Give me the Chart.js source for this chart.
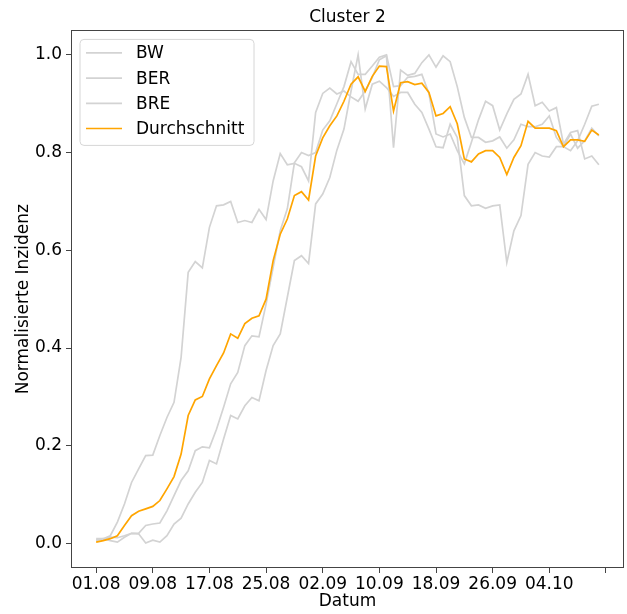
<!DOCTYPE html>
<html><head><meta charset="utf-8">
<script src="https://cdn.jsdelivr.net/npm/chart.js@4.4.1/dist/chart.umd.min.js"></script>
<style>html,body{margin:0;padding:0;background:#fff;overflow:hidden}#wrap{width:627px;height:614px}</style>
</head><body><div id="wrap"><canvas id="c" width="627" height="614"></canvas></div>
<script>
const xTickPositions = [0, 8, 16, 24, 32, 40, 48, 56, 64, 72];
const xTickLabels = ['01.08', '09.08', '17.08', '25.08', '02.09', '10.09', '18.09', '26.09', '04.10', ''];
const yTickValues = [0, 0.2, 0.4, 0.6, 0.8, 1.0];
const seriesNames = ['BW', 'BER', 'BRE', 'Durchschnitt'];

const bw = [0.010,0.010,0.016,0.044,0.081,0.125,0.153,0.180,0.181,0.221,0.258,0.289,0.381,0.555,0.577,0.564,0.647,0.691,0.693,0.700,
0.657,0.661,0.657,0.684,0.663,0.742,0.798,0.775,0.778,0.771,0.742,0.882,0.921,0.932,0.920,0.926,0.914,0.905,0.926,0.954,
0.990,0.998,0.810,0.969,0.958,0.962,0.984,1.000,0.975,0.998,0.986,0.935,0.872,0.831,0.831,0.821,0.824,0.832,0.809,0.826,
0.858,0.853,0.853,0.858,0.875,0.831,0.812,0.804,0.824,0.858,0.895,0.899];
const ber = [0.007,0.009,0.013,0.012,0.016,0.021,0.021,0.037,0.040,0.042,0.067,0.098,0.129,0.149,0.190,0.198,0.196,0.234,0.279,0.327,
0.350,0.405,0.425,0.423,0.490,0.565,0.640,0.685,0.779,0.800,0.794,0.800,0.846,0.865,0.900,0.935,0.986,0.960,0.960,0.977,
0.995,1.000,0.935,0.937,0.954,0.956,0.960,0.921,0.838,0.832,0.838,0.804,0.777,0.821,0.867,0.905,0.896,0.846,0.879,0.909,
0.920,0.960,0.896,0.903,0.885,0.892,0.817,0.841,0.845,0.787,0.793,0.775];
const bre = [0.007,0.010,0.006,0.003,0.013,0.021,0.020,0.001,0.007,0.003,0.016,0.040,0.052,0.081,0.105,0.125,0.170,0.163,0.214,0.262,
0.255,0.282,0.299,0.292,0.354,0.405,0.429,0.504,0.579,0.589,0.573,0.695,0.715,0.749,0.805,0.848,0.926,1.000,0.889,0.940,
0.946,0.933,0.915,0.923,0.923,0.899,0.882,0.848,0.812,0.810,0.858,0.831,0.712,0.691,0.693,0.686,0.691,0.693,0.575,0.640,
0.671,0.776,0.800,0.793,0.791,0.812,0.812,0.838,0.809,0.824,0.850,0.834];
const durchschnitt = [0.003,0.006,0.010,0.016,0.037,0.057,0.066,0.071,0.076,0.088,0.112,0.137,0.183,0.262,0.294,0.301,0.337,0.364,0.390,0.429,
0.420,0.450,0.461,0.466,0.500,0.579,0.633,0.664,0.712,0.720,0.703,0.793,0.830,0.855,0.875,0.905,0.940,0.955,0.925,0.956,
0.977,0.976,0.885,0.943,0.945,0.939,0.942,0.923,0.875,0.880,0.894,0.859,0.787,0.781,0.797,0.804,0.804,0.790,0.755,0.790,
0.814,0.864,0.850,0.850,0.850,0.845,0.812,0.826,0.826,0.823,0.846,0.836];

const FONT = {family: "'DejaVu Sans', sans-serif", size: 17, weight: 'normal'};
const GREY = '#d3d3d3', ORANGE = '#ffa500';
const toPoints = arr => arr.map((v, i) => ({x: i, y: v}));

const mk = (name, arr, color, order) => ({
  label: name, data: toPoints(arr), borderColor: color, backgroundColor: color,
  borderWidth: 1.7, pointRadius: 0, tension: 0, fill: false, order: order
});

const frameLegend = {
  id: 'frameLegend',
  afterDraw(chart) {
    const ctx = chart.ctx, a = chart.chartArea;
    ctx.save();
    ctx.strokeStyle = '#444'; ctx.lineWidth = 1;
    ctx.strokeRect(Math.round(a.left) + 0.5, Math.round(a.top) + 0.5, Math.round(a.right - a.left) - 1, Math.round(a.bottom - a.top) - 1);
    const x0 = a.left + 9, y0 = a.top + 9, w = 174, h = 106, r = 4;
    ctx.beginPath();
    ctx.moveTo(x0 + r, y0); ctx.lineTo(x0 + w - r, y0); ctx.arcTo(x0 + w, y0, x0 + w, y0 + r, r);
    ctx.lineTo(x0 + w, y0 + h - r); ctx.arcTo(x0 + w, y0 + h, x0 + w - r, y0 + h, r);
    ctx.lineTo(x0 + r, y0 + h); ctx.arcTo(x0, y0 + h, x0, y0 + h - r, r);
    ctx.lineTo(x0, y0 + r); ctx.arcTo(x0, y0, x0 + r, y0, r); ctx.closePath();
    ctx.fillStyle = 'rgba(255,255,255,0.8)'; ctx.fill();
    ctx.strokeStyle = '#d6d6d6'; ctx.lineWidth = 1; ctx.stroke();
    ctx.font = FONT.size + 'px ' + FONT.family;
    ctx.textBaseline = 'middle'; ctx.textAlign = 'left';
    chart.data.datasets.forEach((ds, i) => {
      const cy = y0 + 13.5 + i * 25.2;
      ctx.beginPath(); ctx.strokeStyle = ds.borderColor; ctx.lineWidth = ds.borderWidth;
      ctx.moveTo(x0 + 6, cy); ctx.lineTo(x0 + 42, cy); ctx.stroke();
      ctx.fillStyle = '#000'; ctx.fillText(ds.label, x0 + 56, cy + 1);
    });
    ctx.restore();
  }
};

new Chart(document.getElementById('c'), {
  type: 'line',
  data: {
    datasets: [
      mk(seriesNames[0], bw, GREY, 1),
      mk(seriesNames[1], ber, GREY, 1),
      mk(seriesNames[2], bre, GREY, 1),
      mk(seriesNames[3], durchschnitt, ORANGE, 0)
    ]
  },
  options: {
    responsive: false, animation: false, devicePixelRatio: 1,
    layout: {padding: {left: 0, right: 3, top: 0, bottom: 0}},
    plugins: {
      legend: {display: false},
      tooltip: {enabled: false},
      title: {display: true, text: 'Cluster 2', color: '#000', font: FONT, fullSize: false, padding: {top: 7, bottom: 3}}
    },
    scales: {
      x: {
        type: 'linear', min: -3.55, max: 74.55,
        afterFit: s => { s.height = 46; },
        afterBuildTicks: s => { s.ticks = xTickPositions.map(v => ({value: v})); },
        ticks: {color: '#000', font: FONT, padding: 1, maxRotation: 0, autoSkip: false,
          callback: v => { const k = xTickPositions.indexOf(v); return k >= 0 ? xTickLabels[k] : ''; }},
        grid: {display: true, drawOnChartArea: false, drawTicks: true, tickLength: 5, color: '#444'},
        border: {display: false},
        title: {display: true, text: 'Datum', color: '#000', font: FONT, padding: {top: 0, bottom: 2}}
      },
      y: {
        type: 'linear', min: -0.05, max: 1.05,
        afterFit: s => { s.width = 71; },
        afterBuildTicks: s => { s.ticks = yTickValues.map(v => ({value: v})); },
        ticks: {color: '#000', font: FONT, padding: 4, callback: v => v.toFixed(1)},
        grid: {display: true, drawOnChartArea: false, drawTicks: true, tickLength: 5, color: '#444'},
        border: {display: false},
        title: {display: true, text: 'Normalisierte Inzidenz', color: '#000', font: FONT, padding: {top: 13, bottom: 0}}
      }
    }
  },
  plugins: [frameLegend]
});
</script></body></html>
